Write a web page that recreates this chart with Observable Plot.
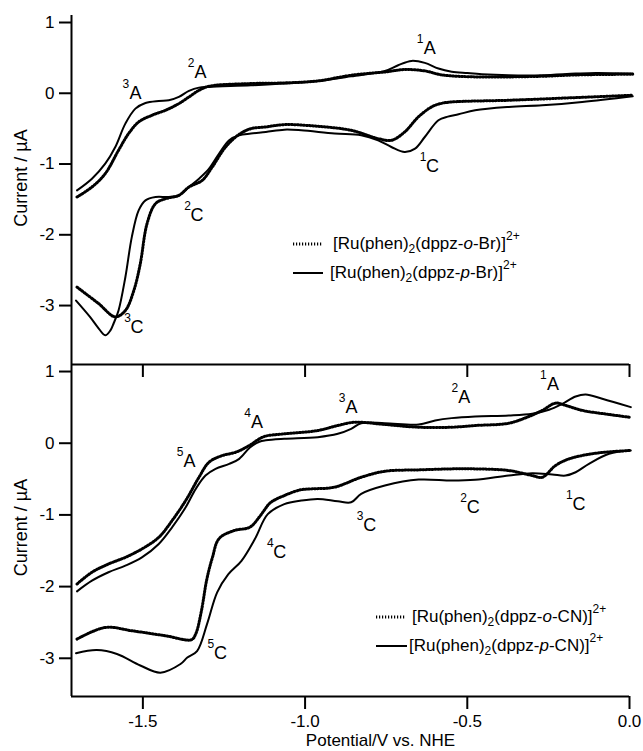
<!DOCTYPE html>
<html><head><meta charset="utf-8">
<script src="https://cdn.jsdelivr.net/npm/d3@7"></script>
<script src="https://cdn.jsdelivr.net/npm/@observablehq/plot@0.6"></script>
<style>
body{margin:0;background:#fff;}
#wrap{position:relative;width:643px;height:751px;font-family:"Liberation Sans",Arial,sans-serif;color:#000;}
#top,#bot{position:absolute;left:0;}
#top{top:0px}
#bot{top:354px}
.leg{position:absolute;height:20px;line-height:20px;font-size:17px;white-space:nowrap;}
.leg svg{position:absolute;left:0;top:0}
.leg span{position:absolute;top:0}
sub{font-size:12px;vertical-align:-4px;line-height:0}
sup{font-size:12px;vertical-align:9px;line-height:0}
</style></head>
<body>
<div id="wrap">
  <div id="top"></div>
  <div id="bot"></div>
  <div class="leg" style="left:293px;top:234px"><svg width="32" height="20"><line x1="0" x2="29" y1="10" y2="10" stroke="#000" stroke-width="3" stroke-dasharray="1.2,1.8"/></svg><span style="left:40px">[Ru(phen)<sub>2</sub>(dppz-<i>o</i>-Br)]<sup>2+</sup></span></div>
  <div class="leg" style="left:293px;top:263px"><svg width="32" height="20"><line x1="0" x2="30" y1="10" y2="10" stroke="#000" stroke-width="2"/></svg><span style="left:37px">[Ru(phen)<sub>2</sub>(dppz-<i>p</i>-Br)]<sup>2+</sup></span></div>
  <div class="leg" style="left:376px;top:607px"><svg width="32" height="20"><line x1="0" x2="30" y1="10" y2="10" stroke="#000" stroke-width="3" stroke-dasharray="1.2,1.8"/></svg><span style="left:36px">[Ru(phen)<sub>2</sub>(dppz-<i>o</i>-CN)]<sup>2+</sup></span></div>
  <div class="leg" style="left:376px;top:636px"><svg width="32" height="20"><line x1="0" x2="31" y1="10" y2="10" stroke="#000" stroke-width="2"/></svg><span style="left:33px">[Ru(phen)<sub>2</sub>(dppz-<i>p</i>-CN)]<sup>2+</sup></span></div>
</div>
<script>
// ---------- data: [potential V, current µA] ----------
// top panel: Br complexes
const pBrAnodic = [[-1.703,-1.372],[-1.657,-1.207],[-1.616,-0.995],[-1.585,-0.759],[-1.554,-0.429],[-1.523,-0.217],[-1.492,-0.137],[-1.451,-0.108],[-1.420,-0.099],[-1.389,-0.052],[-1.358,0.033],[-1.327,0.080],[-1.296,0.090],[-1.167,0.113],[-1.064,0.137],[-0.961,0.174],[-0.858,0.240],[-0.754,0.316],[-0.713,0.396],[-0.672,0.457],[-0.631,0.429],[-0.589,0.349],[-0.548,0.305],[-0.500,0.285],[-0.455,0.269],[-0.372,0.255],[-0.269,0.255],[-0.166,0.278],[-0.104,0.287],[0.010,0.278]];
const pBrCathodic = [[-1.706,-2.93],[-1.663,-3.16],[-1.640,-3.30],[-1.616,-3.42],[-1.600,-3.35],[-1.590,-3.25],[-1.575,-3.07],[-1.554,-2.60],[-1.534,-2.03],[-1.513,-1.655],[-1.492,-1.513],[-1.461,-1.466],[-1.420,-1.466],[-1.389,-1.443],[-1.358,-1.325],[-1.327,-1.207],[-1.296,-1.065],[-1.265,-0.853],[-1.234,-0.665],[-1.203,-0.594],[-1.167,-0.570],[-1.121,-0.547],[-1.064,-0.514],[-1.012,-0.523],[-0.909,-0.570],[-0.827,-0.594],[-0.775,-0.665],[-0.734,-0.759],[-0.693,-0.830],[-0.661,-0.782],[-0.631,-0.618],[-0.589,-0.382],[-0.560,-0.330],[-0.527,-0.297],[-0.476,-0.240],[-0.372,-0.193],[-0.269,-0.170],[-0.146,-0.123],[0.010,-0.042]];
const oBrAnodic = [[-1.703,-1.466],[-1.657,-1.325],[-1.616,-1.136],[-1.575,-0.806],[-1.544,-0.570],[-1.513,-0.406],[-1.472,-0.311],[-1.430,-0.240],[-1.389,-0.146],[-1.358,-0.052],[-1.327,0.042],[-1.296,0.099],[-1.167,0.137],[-1.064,0.146],[-0.961,0.174],[-0.858,0.255],[-0.754,0.301],[-0.693,0.335],[-0.631,0.316],[-0.579,0.260],[-0.476,0.231],[-0.372,0.231],[-0.269,0.240],[-0.166,0.259],[0.010,0.269]];
const oBrCathodic = [[-1.703,-2.74],[-1.637,-2.97],[-1.585,-3.16],[-1.554,-3.07],[-1.528,-2.79],[-1.508,-2.41],[-1.487,-1.84],[-1.461,-1.56],[-1.430,-1.49],[-1.389,-1.443],[-1.358,-1.325],[-1.317,-1.231],[-1.286,-1.042],[-1.245,-0.759],[-1.203,-0.580],[-1.167,-0.500],[-1.121,-0.476],[-1.064,-0.443],[-0.961,-0.467],[-0.858,-0.523],[-0.775,-0.641],[-0.734,-0.665],[-0.693,-0.547],[-0.651,-0.335],[-0.610,-0.193],[-0.583,-0.146],[-0.548,-0.123],[-0.372,-0.099],[-0.166,-0.061],[0.010,-0.028]];
// bottom panel: CN complexes
const pCNAnodic = [[-1.703,-2.067],[-1.657,-1.918],[-1.606,-1.80],[-1.554,-1.708],[-1.503,-1.592],[-1.451,-1.405],[-1.410,-1.173],[-1.368,-0.894],[-1.337,-0.637],[-1.307,-0.451],[-1.276,-0.358],[-1.234,-0.288],[-1.203,-0.218],[-1.170,-0.060],[-1.141,0.020],[-1.121,0.040],[-1.064,0.061],[-0.961,0.084],[-0.899,0.131],[-0.858,0.201],[-0.827,0.279],[-0.754,0.279],[-0.650,0.261],[-0.599,0.317],[-0.548,0.350],[-0.476,0.373],[-0.372,0.387],[-0.300,0.411],[-0.248,0.466],[-0.207,0.550],[-0.166,0.652],[-0.135,0.680],[-0.084,0.620],[0.004,0.503]];
const pCNCathodic = [[-1.706,-2.93],[-1.642,-2.886],[-1.580,-2.94],[-1.508,-3.10],[-1.446,-3.20],[-1.384,-3.08],[-1.363,-2.99],[-1.333,-2.90],[-1.302,-2.52],[-1.271,-2.08],[-1.237,-1.83],[-1.196,-1.64],[-1.154,-1.33],[-1.115,-0.99],[-1.064,-0.85],[-1.012,-0.80],[-0.961,-0.777],[-0.899,-0.810],[-0.858,-0.824],[-0.827,-0.707],[-0.754,-0.591],[-0.650,-0.507],[-0.548,-0.521],[-0.476,-0.511],[-0.372,-0.451],[-0.300,-0.419],[-0.238,-0.437],[-0.197,-0.451],[-0.166,-0.405],[-0.125,-0.288],[-0.063,-0.148],[0.004,-0.102]];
const oCNAnodic = [[-1.703,-1.964],[-1.657,-1.80],[-1.606,-1.685],[-1.554,-1.592],[-1.503,-1.475],[-1.451,-1.313],[-1.410,-1.08],[-1.368,-0.80],[-1.327,-0.475],[-1.296,-0.265],[-1.255,-0.172],[-1.214,-0.126],[-1.172,-0.032],[-1.141,0.061],[-1.121,0.100],[-1.064,0.131],[-0.961,0.177],[-0.899,0.247],[-0.848,0.293],[-0.754,0.261],[-0.650,0.223],[-0.548,0.223],[-0.476,0.247],[-0.372,0.279],[-0.310,0.373],[-0.269,0.457],[-0.228,0.559],[-0.197,0.527],[-0.145,0.457],[-0.063,0.401],[0.000,0.363]];
const oCNCathodic = [[-1.703,-2.732],[-1.616,-2.57],[-1.534,-2.616],[-1.430,-2.686],[-1.350,-2.74],[-1.337,-2.66],[-1.320,-2.35],[-1.303,-1.90],[-1.286,-1.60],[-1.265,-1.33],[-1.220,-1.22],[-1.170,-1.17],[-1.141,-1.03],[-1.125,-0.93],[-1.107,-0.83],[-1.064,-0.73],[-1.014,-0.65],[-0.981,-0.637],[-0.910,-0.614],[-0.827,-0.475],[-0.754,-0.391],[-0.650,-0.372],[-0.548,-0.358],[-0.476,-0.358],[-0.372,-0.381],[-0.300,-0.451],[-0.269,-0.475],[-0.228,-0.311],[-0.186,-0.218],[-0.104,-0.140],[0.000,-0.102]];

// peak labels: superscript number, letter, position (V, µA) of the letter
const topLabels = [
  {n:"3", L:"A", x:-1.523, y:0.004},
  {n:"2", L:"A", x:-1.322, y:0.301},
  {n:"1", L:"A", x:-0.616, y:0.632},
  {n:"1", L:"C", x:-0.607, y:-1.025},
  {n:"2", L:"C", x:-1.333, y:-1.726},
  {n:"3", L:"C", x:-1.518, y:-3.306}
];
const botLabels = [
  {n:"5", L:"A", x:-1.356, y:-0.251},
  {n:"4", L:"A", x:-1.148, y:0.293},
  {n:"3", L:"A", x:-0.857, y:0.505},
  {n:"2", L:"A", x:-0.509, y:0.642},
  {n:"1", L:"A", x:-0.236, y:0.819},
  {n:"1", L:"C", x:-0.156, y:-0.845},
  {n:"2", L:"C", x:-0.482, y:-0.893},
  {n:"3", L:"C", x:-0.801, y:-1.141},
  {n:"4", L:"C", x:-1.078, y:-1.520},
  {n:"5", L:"C", x:-1.261, y:-2.929}
];

const xDomain = [-1.72, 0];
const xTicks = [-1.5, -1.0, -0.5, 0.0];
const yTicks = [-3, -2, -1, 0, 1];
const topYDomain = [-3.833, 1.099];
const botYDomain = [-3.533, 1.098];
const yTitle = "Current / µA";
const xTitle = "Potential/V vs. NHE";

const font = "Liberation Sans, Arial, sans-serif";
const solid = {stroke:"#000", strokeWidth:2};
const dotted = {stroke:"#000", strokeWidth:3, strokeDasharray:"1.2,1.8"};

function curves(branches) {
  return branches.map(([data, st]) => Plot.line(data, {x: d => d[0], y: d => d[1], curve: "catmull-rom", ...st}));
}
function peakLabels(labels) {
  return [
    Plot.text(labels, {x:"x", y:"y", text:"L", fontSize:18, fill:"#000"}),
    Plot.text(labels, {x:"x", y:"y", text:"n", fontSize:12, dx:-9.5, dy:-9, fill:"#000"})
  ];
}

const topPlot = Plot.plot({
  width: 643, height: 380,
  marginLeft: 71, marginRight: 14, marginTop: 15, marginBottom: 16,
  style: {background: "transparent", fontFamily: font, fontSize: "17px", color: "#000"},
  x: {domain: xDomain}, y: {domain: topYDomain},
  marks: [
    Plot.axisY({ticks: yTicks, tickSize: 12, tickPadding: 5, tickFormat: d => String(d), label: null, fontSize: 17, strokeWidth: 2}),
    Plot.axisX({ticks: xTicks, tickSize: 13, tickFormat: () => "", label: null, strokeWidth: 2}),
    Plot.ruleX([xDomain[0]], {strokeWidth: 2}),
    Plot.ruleY([topYDomain[0]], {strokeWidth: 2}),
    ...curves([[pBrAnodic, solid], [pBrCathodic, solid], [oBrAnodic, dotted], [oBrCathodic, dotted]]),
    ...peakLabels(topLabels),
    Plot.text([yTitle], {text: d => d, frameAnchor: "left", rotate: -90, dx: -50, dy: -12, fontSize: 18, textAnchor: "middle", lineAnchor: "middle", fill: "#000"})
  ]
});
document.getElementById("top").appendChild(topPlot);

const botPlot = Plot.plot({
  width: 643, height: 397,
  marginLeft: 71, marginRight: 14, marginTop: 10, marginBottom: 55,
  style: {background: "transparent", fontFamily: font, fontSize: "17px", color: "#000"},
  x: {domain: xDomain}, y: {domain: botYDomain},
  marks: [
    Plot.axisY({ticks: yTicks, tickSize: 12, tickPadding: 5, tickFormat: d => String(d), label: null, fontSize: 17, strokeWidth: 2}),
    Plot.axisX({ticks: xTicks, tickSize: 13, tickPadding: 5, tickFormat: d => d.toFixed(1), label: null, fontSize: 17, strokeWidth: 2}),
    Plot.ruleX([xDomain[0]], {strokeWidth: 2}),
    Plot.ruleY([botYDomain[0]], {strokeWidth: 2}),
    ...curves([[pCNAnodic, solid], [pCNCathodic, solid], [oCNAnodic, dotted], [oCNCathodic, dotted]]),
    ...peakLabels(botLabels),
    Plot.text([yTitle], {text: d => d, frameAnchor: "left", rotate: -90, dx: -50, dy: -3, fontSize: 18, textAnchor: "middle", lineAnchor: "middle", fill: "#000"}),
    Plot.text([xTitle], {text: d => d, frameAnchor: "bottom", dx: 30, dy: 44, fontSize: 17, textAnchor: "middle", lineAnchor: "middle", fill: "#000"})
  ]
});
document.getElementById("bot").appendChild(botPlot);
</script>
</body></html>
